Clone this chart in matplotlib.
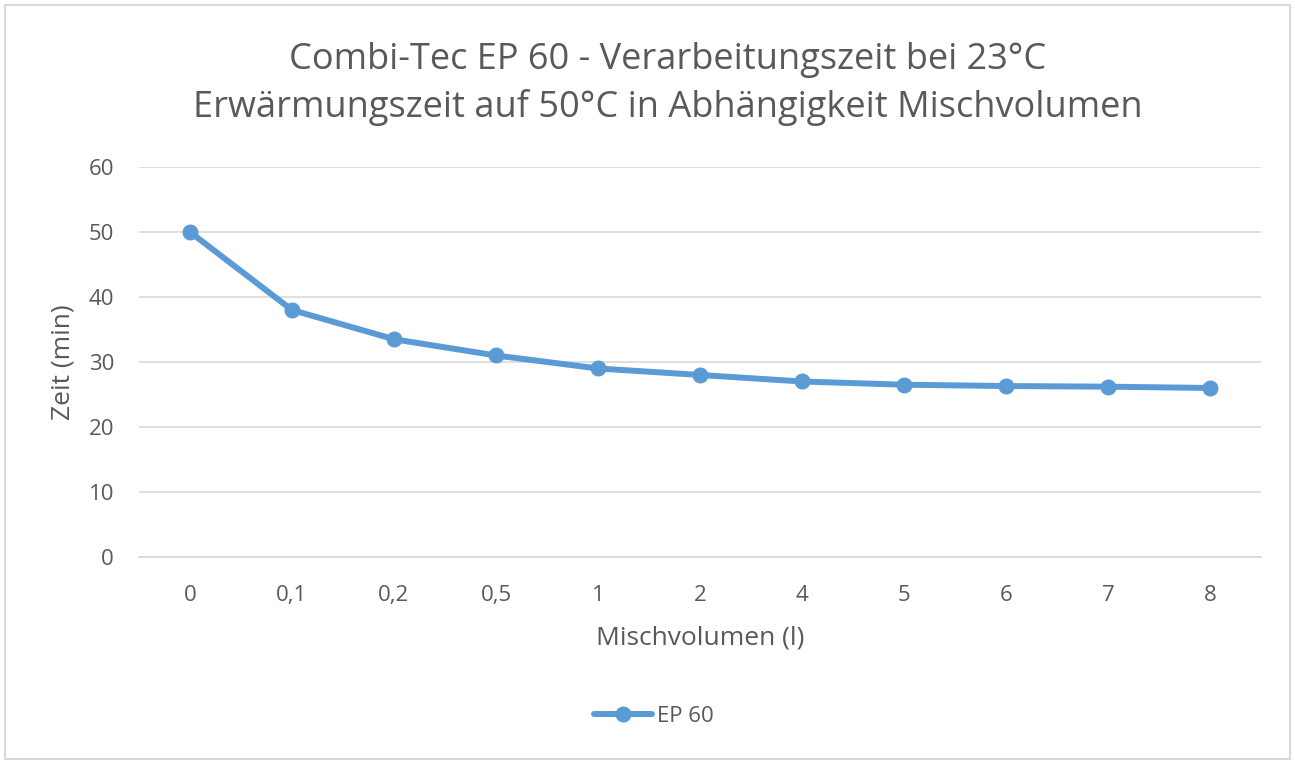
import matplotlib.pyplot as plt
from matplotlib.patches import Rectangle

plt.rcParams['font.family'] = ['Open Sans', 'DejaVu Sans']

# Mischvolumen categories and time values
volumes = ["0", "0,1", "0,2", "0,5", "1", "2", "4", "5", "6", "7", "8"]
zeit_ep60 = [50, 38, 33.5, 31, 29, 28, 27, 26.5, 26.3, 26.2, 26]
y_ticks = [0, 10, 20, 30, 40, 50, 60]

text_col = "#595959"
line_col = "#5B9BD5"

fig = plt.figure(figsize=(12.95, 7.64), dpi=100)
ax = fig.add_axes([0.1073, 0.271, 0.8664, 0.5104])

x = range(len(volumes))
ax.plot(x, zeit_ep60, color=line_col, linewidth=4.3, marker='o', markersize=10.5,
        label="EP 60", solid_capstyle='round', zorder=3)

ax.set_xlim(-0.5, len(volumes) - 0.5)
ax.set_ylim(0, 60)
ax.set_yticks(y_ticks)
ax.set_xticks(list(x))
ax.set_xticklabels(volumes)
ax.grid(axis='y', color="#d9d9d9", linewidth=1.2)
ax.set_axisbelow(True)
for s in ["top", "right", "left"]:
    ax.spines[s].set_visible(False)
ax.spines["bottom"].set_color("#d9d9d9")
ax.spines["bottom"].set_linewidth(1.2)
ax.tick_params(length=0, labelsize=16, colors=text_col)
ax.tick_params(axis='x', pad=20)
ax.tick_params(axis='y', pad=18)

ax.set_xlabel("Mischvolumen (l)", fontsize=19, color=text_col, labelpad=14)
ax.set_ylabel("Zeit (min)", fontsize=19, color=text_col, labelpad=9)

fig.text(0.5155, 0.922, "Combi-Tec EP 60 - Verarbeitungszeit bei 23°C",
         ha='center', va='center', fontsize=26, color=text_col)
fig.text(0.5155, 0.859, "Erwärmungszeit auf 50°C in Abhängigkeit Mischvolumen",
         ha='center', va='center', fontsize=26, color=text_col)

fig.legend(loc='center', bbox_to_anchor=(0.505, 0.062), frameon=False,
           fontsize=16, labelcolor=text_col, handlelength=2.6, handletextpad=0.2)

fig.patches.append(Rectangle((0.004, 0.007), 0.992, 0.986, transform=fig.transFigure,
                             fill=False, edgecolor="#d9d9d9", linewidth=1.5))

fig.savefig("out.png", dpi=100)
